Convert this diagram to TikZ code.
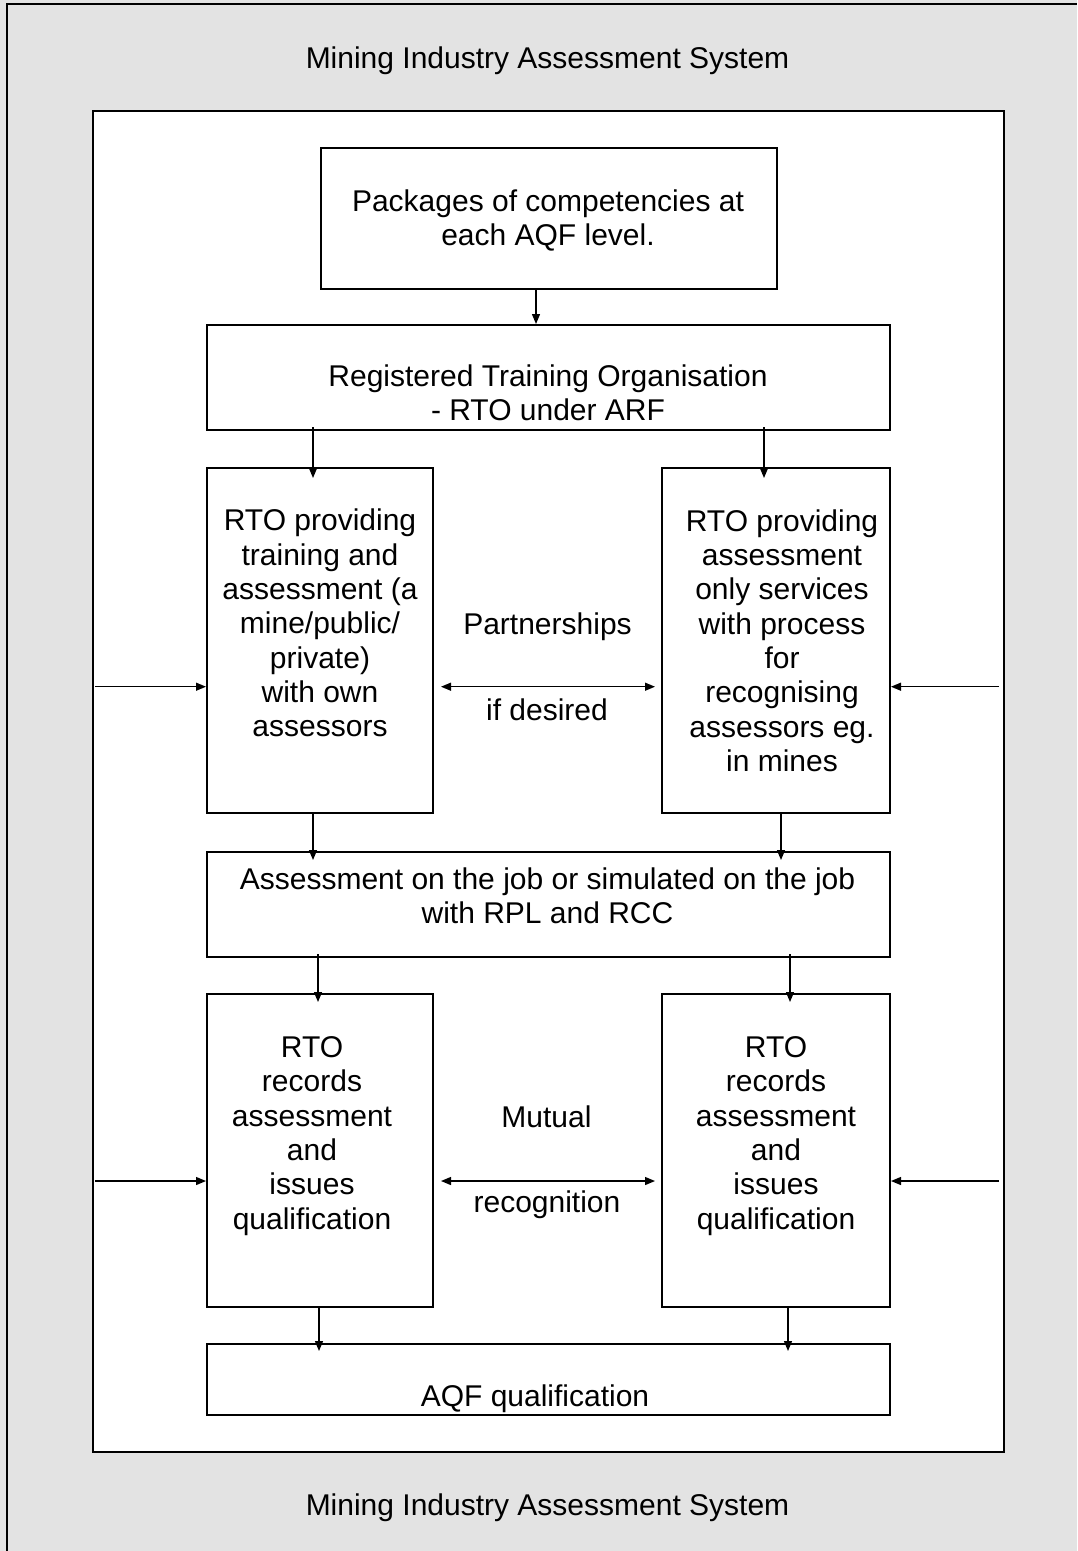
\documentclass[tikz,border=0pt]{standalone}
\usepackage{fontspec}
\setmainfont{Liberation Sans}
\usetikzlibrary{arrows.meta}
\definecolor{panel}{HTML}{E3E3E3}
\begin{document}
\begin{tikzpicture}[x=1pt,y=-1pt,
  frame/.style={draw, line width=2pt, fill=white, inner sep=0pt, anchor=north west},
  box/.style={draw, line width=2pt, inner sep=0pt, anchor=north west},
  txt/.style={inner sep=0pt, align=center, font=\fontsize{30pt}{34.3pt}\selectfont,
    execute at begin node=\strut, execute at end node=\strut},
  arr/.style={line width=1.3pt, -{Triangle[length=10pt,width=8pt]}},
  dbl/.style={line width=1.3pt, {Triangle[length=10pt,width=8pt]}-{Triangle[length=10pt,width=8pt]}}]
\fill[panel] (0,0) rectangle (1077,1551);
\useasboundingbox (0,0) rectangle (1077,1551);
\draw[line width=2pt] (7,1551) -- (7,4) -- (1077,4);
\node[frame, minimum width=911pt, minimum height=1341pt] (frame) at (92,110) {};

\node[txt] (title) at (547.5,61.6) {Mining Industry Assessment System};
\node[txt] (title2) at (547.5,1508.6) {Mining Industry Assessment System};

% boxes
\node[box, minimum width=456pt, minimum height=141pt] (b1) at (320,147) {};
\node[box, minimum width=683pt, minimum height=105pt] (b2) at (206,324) {};
\node[box, minimum width=226pt, minimum height=345pt] (b3) at (206,467) {};
\node[box, minimum width=228pt, minimum height=345pt] (b4) at (661,467) {};
\node[box, minimum width=683pt, minimum height=105pt] (b5) at (206,851) {};
\node[box, minimum width=226pt, minimum height=313pt] (b6) at (206,993) {};
\node[box, minimum width=228pt, minimum height=313pt] (b7) at (661,993) {};
\node[box, minimum width=683pt, minimum height=71pt] (b8) at (206,1343) {};

% texts
\node[txt] (t1) at (548,222.6) {Packages of competencies at\\each AQF level.};
\node[txt] (t2) at (548,398.1) {Registered Training Organisation\\- RTO under ARF};
\node[txt] (t3) at (320,628.1) {RTO providing\\training and\\assessment (a\\mine/public/\\private)\\with own\\assessors};
\node[txt] (t4) at (782,645.6) {RTO providing\\assessment\\only services\\with process\\for\\recognising\\assessors eg.\\in mines};
\node[txt] (part) at (547.5,628.1) {Partnerships};
\node[txt] (ifd) at (547,714.1) {if desired};
\node[txt] (t5) at (547.5,901.1) {Assessment on the job or simulated on the job\\with RPL and RCC};
\node[txt] (t6) at (312,1138.1) {RTO\\records\\assessment\\and\\issues\\qualification};
\node[txt] (t7) at (776,1138.1) {RTO\\records\\assessment\\and\\issues\\qualification};
\node[txt] (mut) at (546.5,1121.1) {Mutual};
\node[txt] (rec) at (547,1206.1) {recognition};
\node[txt] (t8) at (535,1400.1) {AQF qualification};

% vertical arrows
\draw[arr] ([xshift=216pt]b1.south west) -- ([xshift=330pt]b2.north west);
\draw[arr] ([xshift=107pt,yshift=4pt]b2.south west) -- ([xshift=107pt,yshift=-11pt]b3.north west);
\draw[arr] ([xshift=558pt,yshift=4pt]b2.south west) -- ([xshift=103pt,yshift=-11pt]b4.north west);
\draw[arr] ([xshift=107pt]b3.south west) -- ([xshift=107pt,yshift=-9pt]b5.north west);
\draw[arr] ([xshift=120pt]b4.south west) -- ([xshift=575pt,yshift=-9pt]b5.north west);
\draw[arr] ([xshift=112pt,yshift=4pt]b5.south west) -- ([xshift=112pt,yshift=-9pt]b6.north west);
\draw[arr] ([xshift=584pt,yshift=4pt]b5.south west) -- ([xshift=129pt,yshift=-9pt]b7.north west);
\draw[arr] ([xshift=113pt]b6.south west) -- ([xshift=113pt,yshift=-8pt]b8.north west);
\draw[arr] ([xshift=127pt]b7.south west) -- ([xshift=582pt,yshift=-8pt]b8.north west);

% horizontal arrows
\coordinate (L1) at (95,686.7);
\coordinate (R1) at (999,686.7);
\coordinate (L2) at (95,1181);
\coordinate (R2) at (999,1181);
\draw[arr] (L1) -- (L1 -| b3.west);
\draw[arr] (R1) -- (R1 -| b4.east);
\draw[dbl, shorten <=7pt, shorten >=6pt] (b3.east |- L1) -- (b4.west |- L1);
\draw[arr] (L2) -- (L2 -| b6.west);
\draw[arr] (R2) -- (R2 -| b7.east);
\draw[dbl, shorten <=7pt, shorten >=6pt] (b6.east |- L2) -- (b7.west |- L2);
\end{tikzpicture}
\end{document}
